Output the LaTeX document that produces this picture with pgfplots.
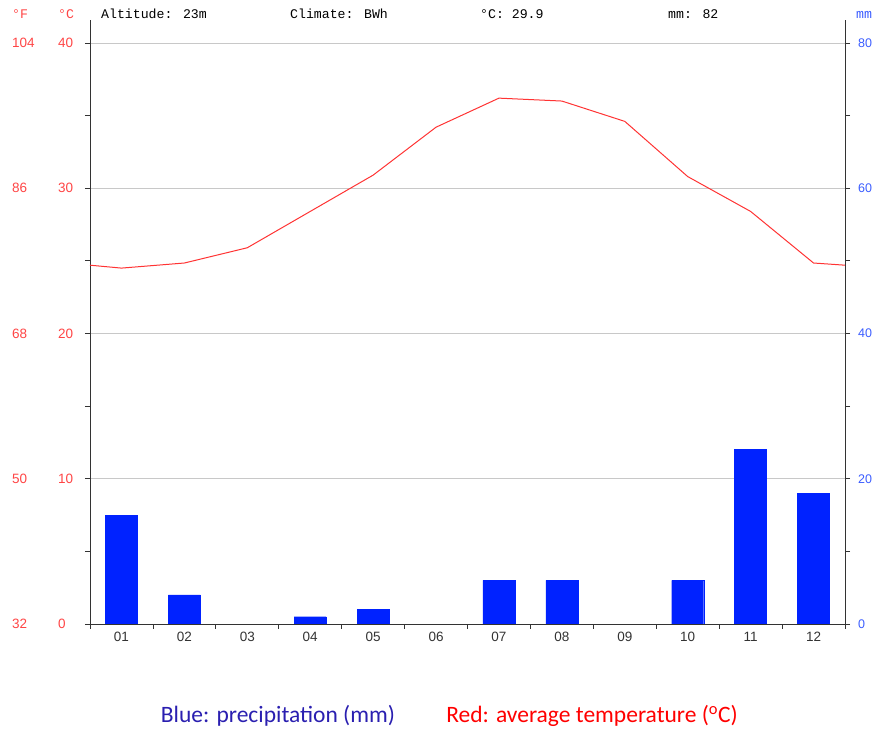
\documentclass[border=0pt]{standalone}
\usepackage{pgfplots}
\pgfplotsset{compat=1.18}
\usepackage{fontspec}
\setmainfont{Liberation Sans}
\newfontfamily\monofont{Liberation Mono}
\newfontfamily\legfont{Carlito}
\definecolor{tred}{HTML}{FF4545}
\definecolor{tblue}{HTML}{3A5CFF}
\definecolor{barblue}{HTML}{0022FF}
\definecolor{linered}{HTML}{FF3333}
\definecolor{legblue}{HTML}{2A1FB0}
\definecolor{legred}{HTML}{FF0000}
\definecolor{gridgray}{HTML}{C8C8C8}
\definecolor{axgray}{HTML}{333333}
\newcommand{\px}[2]{({(#1-90)*1bp},{(624-#2)*1bp})}
\newcommand{\tickfont}{\fontsize{13.5bp}{16bp}\selectfont}
\newcommand{\rtickfont}{\fontsize{12.5bp}{15bp}\selectfont}
\newcommand{\hdrfont}{\monofont\fontsize{13.2bp}{16bp}\selectfont}
\begin{document}
\begin{tikzpicture}
\begin{axis}[
  name=ax,
  at={(0,0)}, anchor=south west,
  scale only axis, width=755bp, height=604bp,
  xmin=0.5, xmax=12.5, ymin=0, ymax=41.58,
  axis x line*=bottom, axis y line*=left,
  axis line style={axgray, line width=0.8bp, -},
  ytick={0,10,20,30,40},
  yticklabels={{\makebox[46bp][l]{32}0},{\makebox[46bp][l]{50}10},{\makebox[46bp][l]{68}20},{\makebox[46bp][l]{86}30},{\makebox[46bp][l]{104}40}},
  minor ytick={5,15,25,35},
  xtick={1,2,3,4,5,6,7,8,9,10,11,12},
  xticklabels={01,02,03,04,05,06,07,08,09,10,11,12},
  minor xtick={0.5,1.5,2.5,3.5,4.5,5.5,6.5,7.5,8.5,9.5,10.5,11.5,12.5},
  major x tick style={draw=none},
  tick align=outside,
  major tick length=5bp, minor tick length=5bp,
  tick style={axgray, line width=0.8bp},
  ymajorgrids, grid style={gridgray, line width=0.8bp},
  yticklabel style={anchor=west, inner sep=0pt, xshift=-73bp, text=tred, font=\tickfont},
  xticklabel style={text=axgray, font=\tickfont},
]
\addplot[linered, line width=1bp, mark=none, sharp plot] coordinates {
  (0.5,24.7) (1,24.5) (2,24.85) (3,25.9) (4,28.4) (5,30.9) (6,34.2)
  (7,36.2) (8,36.0) (9,34.6) (10,30.8) (11,28.4) (12,24.85) (12.5,24.7)};
\end{axis}
\begin{axis}[
  at={(0,0)}, anchor=south west,
  scale only axis, width=755bp, height=604bp,
  xmin=0.5, xmax=12.5, ymin=0, ymax=83.16,
  axis y line*=right, axis x line=none,
  axis line style={axgray, line width=0.8bp, -},
  ytick={0,20,40,60,80},
  yticklabels={0,20,40,60,80},
  minor ytick={10,30,50,70},
  tick align=outside,
  major tick length=5bp, minor tick length=5bp,
  tick style={axgray, line width=0.8bp},
  yticklabel style={anchor=west, inner sep=0pt, xshift=8bp, text=tblue, font=\rtickfont},
]
\addplot[ybar, bar width=32bp, fill=barblue, draw=barblue] coordinates {
  (1,15) (2,4) (4,1) (5,2) (7,6) (8,6) (10,6) (11,24) (12,18)};
\end{axis}
\node[anchor=base west, inner sep=0pt, text=tred, font=\hdrfont] at \px{12}{19} {°F};
\node[anchor=base west, inner sep=0pt, text=tred, font=\hdrfont] at \px{58}{19} {°C};
\node[anchor=base west, inner sep=0pt, text=black, font=\hdrfont] at \px{101}{19} {Altitude: 23m};
\node[anchor=base west, inner sep=0pt, text=black, font=\hdrfont] at \px{290}{19} {Climate: BWh};
\node[anchor=base west, inner sep=0pt, text=black, font=\hdrfont] at \px{480}{19} {°C: 29.9};
\node[anchor=base west, inner sep=0pt, text=black, font=\hdrfont] at \px{668}{19} {mm: 82};
\node[anchor=base west, inner sep=0pt, text=tblue, font=\hdrfont] at \px{856}{19} {mm};
\node[anchor=base, inner sep=0pt, text=legblue, font=\legfont\fontsize{23.5bp}{28bp}\selectfont] at \px{278}{723} {Blue: precipitation (mm)};
\node[anchor=base, inner sep=0pt, text=legred, font=\legfont\fontsize{23.5bp}{28bp}\selectfont] at \px{592}{723} {Red: average temperature (\textsuperscript{o}C)};
\pgfresetboundingbox
\useasboundingbox \px{0}{0} rectangle \px{874}{731};
\end{tikzpicture}
\end{document}
